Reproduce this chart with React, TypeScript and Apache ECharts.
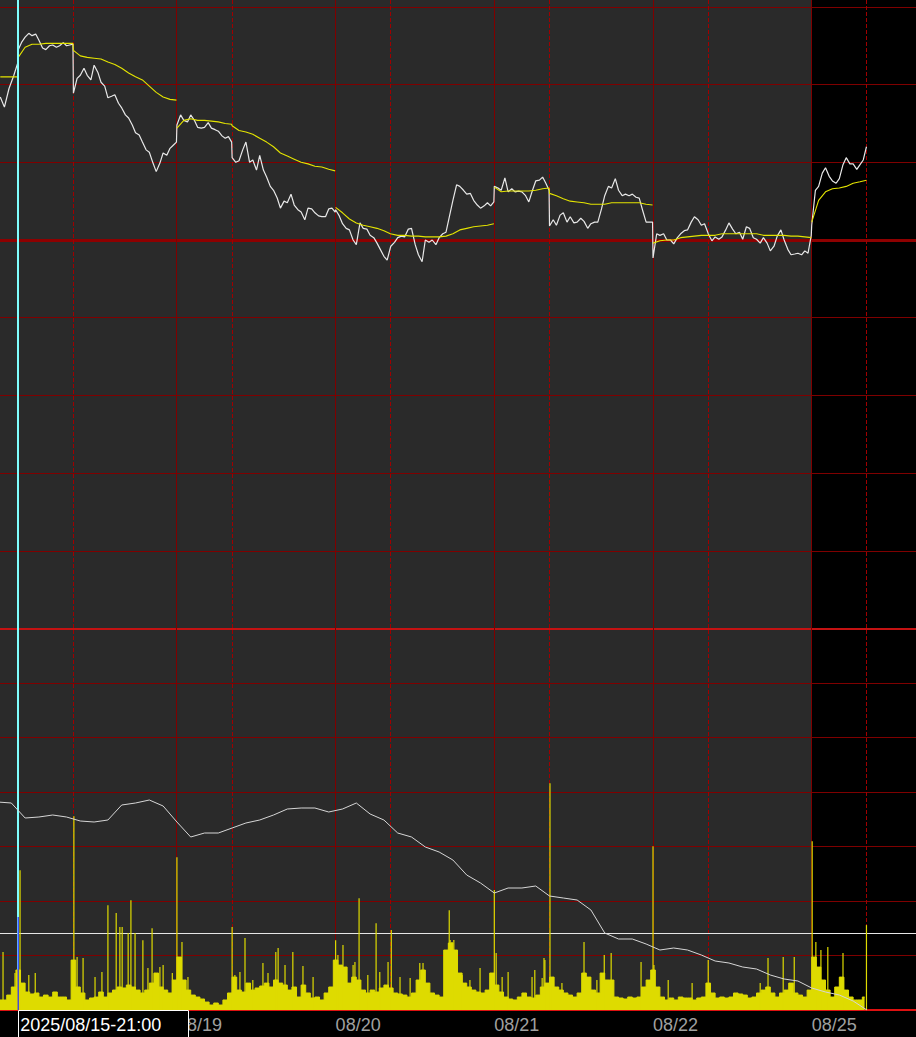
import React, { useEffect, useRef } from "react";
import * as echarts from "echarts";

// ---------- axis layout (bar index: 345 one-minute bars per trading day, night session = first 120) ----------
const DAY_BARS = 345;
const NIGHT_BARS = 120;
const X_MIN = -39.6;
const X_MAX = 1951.7;

const tradingDays = ["08/18", "08/19", "08/20", "08/21", "08/22", "08/25"];
const cursorIdx = 0;
const cursorText = "2025/08/15-21:00";

// sample positions inside each trading day (bar offsets)
const priceOffsets = [0, 8, 15, 23, 30, 38, 45, 53, 60, 68, 75, 83, 90, 98, 105, 112, 119, 120, 128, 135, 143, 150, 158, 165, 173, 180, 188, 195, 203, 210, 218, 225, 233, 240, 248, 255, 263, 270, 278, 285, 293, 300, 308, 315, 323, 330, 337, 344];
const vwapOffsets = [0, 15, 30, 45, 60, 75, 90, 105, 119, 120, 135, 150, 165, 180, 195, 210, 225, 240, 255, 270, 285, 300, 315, 330, 344];

// ---------- price (top panel) ----------
const prevIdx = [-39, -30, -20, -10, -1];
const prevPrice = [3628.4, 3627.1, 3629.5, 3631.1, 3632.8];
const prevVwapIdx = [-39, -1];
const prevVwap = [3631.0, 3631.0];

const price0 = [3634.5, 3635.5, 3636.1, 3636.6, 3636.3, 3636.5, 3635.7, 3634.7, 3634.5, 3635.0, 3635.1, 3634.8, 3635.0, 3635.4, 3635.0, 3635.1, 3635.2, 3628.9, 3630.8, 3631.2, 3632.1, 3631.2, 3630.6, 3632.5, 3631.6, 3630.3, 3629.8, 3628.3, 3628.5, 3628.7, 3627.6, 3627.0, 3626.1, 3625.7, 3624.8, 3623.8, 3623.5, 3622.6, 3621.6, 3621.3, 3619.9, 3618.8, 3619.9, 3621.2, 3620.9, 3621.8, 3622.2, 3622.6];
const price1 = [3624.8, 3626.1, 3625.4, 3625.2, 3626.1, 3625.4, 3624.5, 3624.4, 3624.5, 3625.1, 3624.4, 3624.2, 3624.0, 3623.4, 3623.1, 3623.3, 3622.6, 3620.6, 3620.0, 3620.2, 3621.6, 3622.6, 3620.0, 3620.3, 3619.0, 3620.9, 3619.0, 3618.1, 3616.9, 3616.4, 3615.4, 3614.1, 3615.0, 3614.8, 3615.9, 3614.5, 3613.9, 3613.6, 3612.6, 3614.1, 3614.0, 3613.5, 3613.1, 3613.0, 3613.0, 3614.0, 3614.1, 3613.6];
const price2 = [3613.9, 3613.1, 3612.1, 3611.5, 3611.3, 3610.0, 3609.4, 3612.2, 3611.5, 3611.4, 3610.6, 3610.3, 3609.6, 3608.7, 3607.9, 3607.4, 3609.0, 3609.2, 3609.7, 3610.3, 3610.5, 3610.4, 3611.4, 3611.5, 3609.4, 3608.1, 3607.2, 3610.0, 3609.7, 3610.0, 3609.4, 3610.3, 3610.8, 3611.0, 3613.2, 3615.1, 3617.1, 3616.9, 3616.4, 3615.9, 3616.0, 3615.1, 3614.5, 3614.1, 3614.4, 3614.8, 3614.4, 3614.9];
const price3 = [3616.9, 3616.7, 3616.4, 3618.0, 3616.2, 3616.6, 3616.2, 3616.3, 3616.2, 3615.7, 3614.9, 3616.4, 3617.6, 3617.7, 3618.1, 3617.3, 3616.4, 3611.8, 3612.6, 3611.9, 3613.2, 3613.5, 3612.3, 3613.0, 3612.2, 3612.3, 3612.8, 3612.4, 3611.5, 3612.1, 3612.3, 3612.3, 3614.0, 3615.7, 3616.9, 3616.7, 3617.9, 3616.4, 3615.7, 3615.9, 3615.7, 3615.9, 3615.5, 3615.4, 3613.7, 3612.3, 3612.3, 3612.3];
const price4 = [3607.7, 3610.8, 3610.6, 3610.8, 3610.0, 3610.0, 3609.5, 3610.3, 3610.8, 3611.2, 3611.3, 3612.3, 3613.0, 3612.6, 3611.9, 3612.1, 3611.0, 3610.8, 3609.9, 3610.4, 3610.1, 3610.4, 3611.3, 3612.2, 3611.4, 3610.8, 3611.0, 3610.1, 3611.7, 3611.5, 3610.3, 3610.1, 3609.6, 3610.3, 3609.6, 3608.6, 3609.2, 3610.5, 3611.3, 3610.0, 3608.8, 3608.1, 3608.2, 3608.3, 3608.1, 3608.6, 3608.3, 3610.6];
const price5 = [3611.9, 3616.4, 3616.9, 3618.6, 3619.3, 3618.2, 3617.6, 3617.3, 3617.9, 3619.7, 3620.6, 3619.8, 3619.8, 3619.1, 3619.7, 3620.3, 3622.0];

const vwap0 = [3633.5, 3634.8, 3635.2, 3635.2, 3635.3, 3635.3, 3635.3, 3635.3, 3635.3, 3634.4, 3633.7, 3633.5, 3633.4, 3633.3, 3632.9, 3632.6, 3632.1, 3631.5, 3631.0, 3630.6, 3629.8, 3629.0, 3628.4, 3628.1, 3628.0];
const vwap1 = [3624.4, 3625.4, 3625.6, 3625.4, 3625.4, 3625.3, 3625.2, 3625.0, 3624.9, 3624.7, 3624.1, 3623.9, 3623.6, 3623.1, 3622.6, 3622.0, 3621.2, 3620.8, 3620.4, 3620.0, 3619.8, 3619.5, 3619.4, 3619.1, 3618.9];
const vwap2 = [3614.2, 3613.5, 3612.7, 3612.2, 3611.9, 3611.7, 3611.5, 3611.2, 3610.8, 3610.8, 3610.6, 3610.6, 3610.5, 3610.5, 3610.4, 3610.4, 3610.4, 3610.5, 3610.8, 3611.3, 3611.5, 3611.7, 3611.8, 3611.9, 3612.1];
const vwap3 = [3616.8, 3616.2, 3616.3, 3616.3, 3616.3, 3616.3, 3616.4, 3616.6, 3616.7, 3616.0, 3615.7, 3615.3, 3615.0, 3614.9, 3614.8, 3614.6, 3614.6, 3614.6, 3614.8, 3614.8, 3614.8, 3614.8, 3614.8, 3614.6, 3614.5];
const vwap4 = [3609.6, 3609.9, 3610.0, 3610.0, 3610.3, 3610.4, 3610.5, 3610.6, 3610.6, 3610.6, 3610.6, 3610.8, 3610.8, 3610.8, 3610.8, 3610.8, 3610.8, 3610.6, 3610.6, 3610.6, 3610.6, 3610.5, 3610.5, 3610.4, 3610.3];
const vwap5 = [3612.3, 3615.1, 3616.2, 3616.6, 3616.7, 3616.9, 3617.3, 3617.5, 3617.7];

const prevSettle = 3610;

// ---------- volume / open interest (bottom panel) ----------
const volStart = -40;
const volStep = 10;
const volBase = [
  92, 92, 137, 211, 367, 247, 165, 147, 156, 119,
  137, 119, 165, 119, 119, 92, 458, 211, 156, 92,
  110, 119, 165, 119, 156, 183, 211, 202, 229, 211,
  183, 156, 183, 247, 339, 211, 183, 156, 275, 486,
  275, 183, 137, 119, 101, 73, 46, 64, 46, 92,
  156, 302, 183, 165, 247, 183, 202, 220, 247, 211,
  275, 247, 229, 183, 211, 119, 229, 156, 110, 119,
  92, 156, 211, 458, 412, 394, 247, 302, 275, 183,
  156, 183, 165, 202, 229, 202, 156, 147, 137, 119,
  156, 275, 367, 247, 156, 137, 119, 550, 614, 550,
  339, 247, 211, 183, 165, 156, 183, 339, 229, 165,
  119, 101, 92, 119, 156, 119, 110, 137, 211, 247,
  302, 211, 183, 156, 137, 119, 156, 339, 302, 183,
  156, 339, 275, 275, 119, 110, 101, 119, 110, 119,
  211, 275, 367, 211, 119, 92, 110, 92, 119, 110,
  110, 92, 110, 119, 247, 156, 110, 119, 110, 119,
  156, 147, 137, 110, 119, 156, 183, 211, 156, 119,
  156, 183, 247, 156, 137, 119, 183, 486, 394, 275,
  183, 119, 211, 302, 183, 119, 92, 92, 119,
];
const spikeIdx = [-33, 4, 121, 195, 213, 221, 226, 239, 245, 254, 271, 291, 345, 465, 493, 560, 565, 597, 690, 706, 741, 778, 811, 937, 1035, 1143, 1156, 1230, 1274, 1289, 1354, 1380, 1500, 1630, 1687, 1726, 1734, 1745, 1760, 1793, 1844];
const spikeVol = [531, 1283, 1778, 962, 889, 761, 761, 706, 1008, 706, 641, 751, 1402, 761, 660, 531, 568, 531, 641, 596, 1026, 797, 733, 916, 1100, 476, 2080, 623, 504, 522, 440, 1503, 458, 476, 486, 1549, 623, 550, 577, 522, 779];
const midSpikeIdx = [-7, 23, 37, 128, 141, 167, 182, 282, 308, 315, 335, 356, 369, 471, 482, 510, 532, 543, 580, 619, 641, 695, 728, 732, 760, 786, 804, 830, 852, 873, 880, 939, 943, 947, 965, 982, 1004, 1039, 1052, 1065, 1117, 1123, 1139, 1145, 1160, 1182, 1258, 1382, 1413, 1465, 1613, 1663];
const midSpikeVol = [339, 321, 339, 486, 477, 303, 349, 385, 394, 413, 339, 624, 303, 321, 349, 275, 431, 339, 413, 404, 303, 505, 413, 440, 321, 349, 440, 303, 294, 431, 431, 642, 624, 642, 321, 275, 385, 523, 303, 349, 303, 367, 294, 459, 294, 248, 275, 413, 275, 248, 248, 486];
const cursorVol = 853;
const volRef = 706;

const oiStart = -45;
const oiStep = 30;
const openInterest = [
  120800, 120700, 119200, 119300, 119500, 119300, 118900, 118800, 119000, 120500,
  120700, 121000, 120400, 118800, 117300, 117700, 117700, 118200, 118700, 119000,
  119500, 120100, 120200, 120200, 119800, 120100, 120700, 119600, 119000, 117700,
  117300, 116300, 115800, 115000, 113500, 112700, 111700, 112200, 112200, 112400,
  111400, 111200, 111000, 110000, 107700, 107100, 107100, 106600, 106000, 106200,
  106000, 105500, 104900, 104700, 104300, 104100, 103500, 103100, 102900, 102200,
  101800, 101500, 100900, 100000,
];

// ---------- styles ----------
const GRID_RED = "#7f0000";
const DASH_RED = "#a00000";
const YELLOW = "#dedb00";
const VWAP_YELLOW = "#e4e400";
const PLOT_BG = "#2a2a2a";
const FONT = "'Liberation Sans', Arial, sans-serif";

function buildOption() {
  const prices = [price0, price1, price2, price3, price4, price5];
  const vwaps = [vwap0, vwap1, vwap2, vwap3, vwap4, vwap5];

  const priceData: number[][] = prevIdx.map((x, i) => [x, prevPrice[i]]);
  prices.forEach((arr, d) => arr.forEach((v, k) => priceData.push([d * DAY_BARS + priceOffsets[k], v])));

  const vwapLines: number[][][] = [prevVwapIdx.map((x, i) => [x, prevVwap[i]])];
  vwaps.forEach((arr, d) => vwapLines.push(arr.map((v, k) => [d * DAY_BARS + vwapOffsets[k], v])));

  const volData = volBase.map((v, k) => [volStart + volStep * k, v]);
  const spikeData: any[] = spikeIdx.map((x, i) => [x, spikeVol[i]]).concat(midSpikeIdx.map((x, i) => [x, midSpikeVol[i]]));
  spikeData.push({ value: [cursorIdx, cursorVol], itemStyle: { color: "#2b2bff" } });
  const oiData = openInterest.map((v, k) => [oiStart + oiStep * k, v]);

  const currentDayStart = (tradingDays.length - 1) * DAY_BARS;

  // vertical session lines: kind 0 = trading-day start (solid), kind 1 = 09:00 day-session start (dashed)
  const sessionLines: number[][] = [];
  tradingDays.forEach((_, d) => {
    sessionLines.push([d * DAY_BARS, 0]);
    sessionLines.push([d * DAY_BARS + NIGHT_BARS, 1]);
  });

  const vRender = (params: any, api: any) => {
    const idx = api.value(0);
    const kind = api.value(1);
    const top = api.coord([idx, 1]);
    const bot = api.coord([idx, 0]);
    if (kind === 2) {
      const x = Math.round(top[0]);
      return { type: "line", shape: { x1: x, y1: top[1], x2: x, y2: bot[1] }, style: { stroke: "#80ffff", lineWidth: 2 } };
    }
    const x = Math.floor(top[0]) + 0.5;
    return {
      type: "line",
      shape: { x1: x, y1: top[1], x2: x, y2: bot[1] },
      style: kind === 0 ? { stroke: GRID_RED, lineWidth: 1 } : { stroke: DASH_RED, lineWidth: 1, lineDash: [4, 2] },
    };
  };

  const markBase = { silent: true, symbol: ["none", "none"], label: { show: false }, animation: false };

  const dataXAxis = (gridIndex: number, lineColor: string, lineWidth: number, show = true) => ({
    type: "value",
    gridIndex,
    min: X_MIN,
    max: X_MAX,
    axisLine: { show, onZero: false, lineStyle: { color: lineColor, width: lineWidth } },
    axisTick: { show: false },
    axisLabel: { show: false },
    splitLine: { show: false },
  });

  return {
    animation: false,
    backgroundColor: "#000000",
    grid: [
      { left: 0, right: 0, top: 6.9, height: 621.6 },
      { left: 0, right: 0, top: 628.5, height: 381.5 },
      { left: 0, right: 0, top: 0, height: 1010 },
    ],
    xAxis: [
      dataXAxis(0, "#c41212", 2),
      dataXAxis(1, "#dd1111", 2),
      dataXAxis(2, "#000", 1, false),
    ],
    yAxis: [
      {
        type: "value", gridIndex: 0, min: 3560, max: 3640, interval: 10,
        axisLine: { show: false }, axisTick: { show: false }, axisLabel: { show: false },
        splitLine: { show: true, lineStyle: { color: GRID_RED, width: 1 } },
      },
      {
        type: "value", gridIndex: 1, min: 0, max: 3500, interval: 500,
        axisLine: { show: false }, axisTick: { show: false }, axisLabel: { show: false },
        splitLine: { show: true, lineStyle: { color: GRID_RED, width: 1 } },
      },
      {
        type: "value", gridIndex: 1, min: 100000, max: 138150, position: "right",
        axisLine: { show: false }, axisTick: { show: false }, axisLabel: { show: false },
        splitLine: { show: false },
      },
      { type: "value", gridIndex: 2, min: 0, max: 1, show: false, splitLine: { show: false } },
    ],
    series: [
      {
        // plot background of the finished trading days
        type: "line", xAxisIndex: 2, yAxisIndex: 3, data: [], z: 0,
        markArea: {
          silent: true, z: -10,
          itemStyle: { color: PLOT_BG },
          data: [[{ xAxis: X_MIN }, { xAxis: currentDayStart }]],
        },
      },
      {
        type: "custom", xAxisIndex: 2, yAxisIndex: 3, data: sessionLines, z: 1, silent: true, clip: false,
        renderItem: vRender,
      },
      {
        type: "custom", xAxisIndex: 2, yAxisIndex: 3, data: [[cursorIdx, 2]], z: 10, silent: true, clip: false,
        renderItem: vRender,
      },
      {
        type: "line", xAxisIndex: 0, yAxisIndex: 0, data: [], z: 0,
        markLine: {
          ...markBase, z: 1,
          data: [{ yAxis: prevSettle, lineStyle: { color: "#8e0000", width: 3, type: "solid" } }],
        },
      },
      {
        type: "line", xAxisIndex: 1, yAxisIndex: 1, data: [], z: 0,
        markLine: {
          ...markBase, z: 3,
          data: [{ yAxis: volRef, lineStyle: { color: "#e6e6e6", width: 1, type: "solid" } }],
        },
      },
      {
        name: "price", type: "line", xAxisIndex: 0, yAxisIndex: 0, data: priceData,
        showSymbol: false, symbol: "none", z: 3,
        lineStyle: { color: "#e8e8e8", width: 1.2 },
      },
      ...vwapLines.map((d) => ({
        type: "line", xAxisIndex: 0, yAxisIndex: 0, data: d,
        showSymbol: false, symbol: "none", z: 4,
        lineStyle: { color: VWAP_YELLOW, width: 1.1 },
      })),
      {
        name: "volume", type: "line", xAxisIndex: 1, yAxisIndex: 1, data: volData, step: "middle",
        showSymbol: false, symbol: "none", z: 11,
        lineStyle: { color: YELLOW, width: 1 },
        areaStyle: { color: YELLOW, opacity: 1 },
      },
      {
        name: "spikes", type: "bar", xAxisIndex: 1, yAxisIndex: 1, data: spikeData,
        barWidth: 1.2, z: 12, itemStyle: { color: YELLOW },
      },
      {
        name: "oi", type: "line", xAxisIndex: 1, yAxisIndex: 2, data: oiData,
        showSymbol: false, symbol: "none", z: 13,
        lineStyle: { color: "#d6d6d6", width: 1 },
      },
    ],
  };
}

export default function App() {
  const ref = useRef<HTMLDivElement>(null);
  useEffect(() => {
    document.body.style.margin = "0";
    document.body.style.background = "#000";
    const chart = echarts.init(ref.current as HTMLDivElement, null, { renderer: "svg" });
    chart.setOption(buildOption() as any);

    const px = (v: number) => chart.convertToPixel({ xAxisIndex: 1 }, v) as number;
    const bottom = chart.convertToPixel({ yAxisIndex: 1 }, 0) as number;
    const labelY = bottom + 15;
    const graphics: any[] = [];
    tradingDays.forEach((d, i) => {
      if (i === 0) return; // the first trading day's label lies under the cursor time box
      graphics.push({
        type: "text", x: px(i * DAY_BARS), y: labelY, z: 50,
        style: { text: d, fill: "#a0a0a0", font: `18px ${FONT}`, textAlign: "left", textVerticalAlign: "middle" },
      });
    });
    const cx = px(cursorIdx);
    graphics.push({
      type: "rect", x: Math.round(cx) + 0.5, y: Math.round(bottom) + 0.5, z: 60,
      shape: { x: 0, y: 0, width: 170, height: 32 },
      style: { fill: "#000", stroke: "#ffffff", lineWidth: 1 },
    });
    graphics.push({
      type: "text", x: cx + 2, y: labelY, z: 61,
      style: { text: cursorText, fill: "#ffffff", font: `18px ${FONT}`, textAlign: "left", textVerticalAlign: "middle" },
    });
    chart.setOption({ graphic: graphics });

    return () => chart.dispose();
  }, []);
  return <div ref={ref} style={{ width: 916, height: 1037, background: "#000" }} />;
}
